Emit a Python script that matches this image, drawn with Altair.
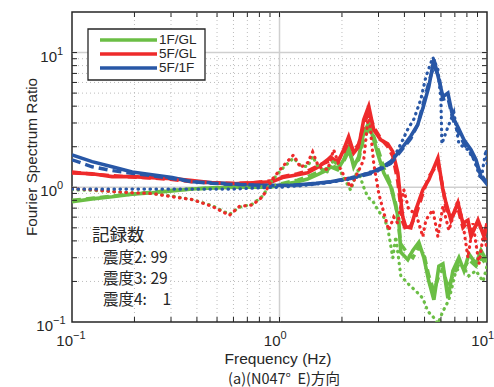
import altair as alt
import pandas as pd

W, H = 415, 310
SERIES = ["1F/GL", "5F/GL", "5F/1F"]
COLORS = ["#6BBE45", "#EE2A2B", "#2857A6"]
INK = "#262626"

# ---- data (frequency Hz, spectrum ratio) ----
# 1F/GL
G2_f = [0.1, 0.125, 0.156, 0.195, 0.243, 0.304, 0.38, 0.475, 0.594, 0.74, 0.904, 1.034, 1.222, 1.366, 1.543,
        1.706, 1.764, 1.906, 2.038, 2.154, 2.278, 2.407, 2.546, 2.692, 2.845, 3.008, 3.18, 3.438, 3.634, 3.757,
        3.842, 4.153, 4.391, 4.694, 4.962, 5.245, 5.546, 5.863, 6.13, 6.48, 6.849, 7.322, 7.742, 8.185, 8.849,
        9.355, 9.89, 10]
G2_v = [0.78, 0.82, 0.85, 0.89, 0.91, 0.94, 0.97, 0.99, 1.0, 1.0, 1.0, 1.05, 1.1, 1.15, 1.25,
        1.35, 1.42, 1.35, 1.6, 2.0, 1.42, 1.68, 2.54, 3.0, 2.25, 1.68, 1.28, 1.01, 0.72, 0.57,
        0.33, 0.29, 0.34, 0.39, 0.30, 0.2, 0.146, 0.26, 0.27, 0.15, 0.24, 0.3, 0.24, 0.32, 0.27,
        0.34, 0.29, 0.3]
G3_v = [0.8, 0.83, 0.86, 0.89, 0.92, 0.95, 0.97, 0.99, 1.0, 1.0, 1.01, 1.07, 1.13, 1.2, 1.3,
        1.38, 1.45, 1.4, 1.55, 1.85, 1.5, 1.6, 2.3, 2.7, 2.4, 1.85, 1.4, 1.05, 0.75, 0.5,
        0.38, 0.32, 0.3, 0.36, 0.32, 0.22, 0.17, 0.22, 0.25, 0.18, 0.22, 0.27, 0.25, 0.29, 0.26,
        0.3, 0.27, 0.28]
G4_f = [0.1, 0.125, 0.156, 0.195, 0.243, 0.304, 0.38, 0.475, 0.574, 0.64, 0.74, 0.83, 0.92, 1.034, 1.168,
        1.263, 1.366, 1.444, 1.543, 1.706, 1.824, 1.971, 2.203, 2.381, 2.546, 2.662, 2.845, 3.008, 3.18, 3.325,
        3.515, 3.634, 3.842, 4.2, 4.54, 4.907, 5.188, 5.483, 5.798, 6.13, 6.553, 7.082, 7.655, 8.185, 8.849,
        9.565, 10]
G4_v = [0.96, 0.95, 0.93, 0.91, 0.9, 0.86, 0.81, 0.73, 0.63, 0.71, 0.75, 0.86, 1.12, 1.38, 1.65,
        1.45, 1.42, 1.7, 1.4, 1.3, 1.6, 1.3, 0.95, 1.35, 1.0, 0.85, 0.77, 0.66, 0.6, 0.5,
        0.3, 0.43, 0.22, 0.19, 0.17, 0.15, 0.12, 0.11, 0.097, 0.12, 0.146, 0.24, 0.26, 0.22, 0.24,
        0.2, 0.26]

# 5F/GL
R2_f = [0.1, 0.125, 0.156, 0.195, 0.243, 0.304, 0.38, 0.475, 0.594, 0.74, 0.92, 1.034, 1.222, 1.366, 1.543,
        1.706, 1.764, 1.906, 2.038, 2.154, 2.278, 2.407, 2.546, 2.692, 2.845, 3.076, 3.325, 3.515, 3.716, 3.842,
        3.928, 4.061, 4.295, 4.54, 4.907, 5.245, 5.798, 6.13, 6.338, 6.7, 7.242, 7.655, 8.095, 8.37, 9.048,
        9.672, 10]
R2_v = [1.28, 1.26, 1.2, 1.2, 1.18, 1.16, 1.12, 1.08, 1.06, 1.08, 1.1, 1.18, 1.24, 1.28, 1.42,
        1.6, 1.68, 1.52, 1.9, 2.37, 1.8, 2.0, 3.17, 4.0, 2.67, 2.25, 2.1, 1.84, 1.28, 0.8,
        0.6, 0.51, 0.5, 0.68, 0.96, 1.14, 1.65, 0.96, 0.77, 0.57, 0.77, 0.54, 0.57, 0.43, 0.57,
        0.43, 0.54]
R3_v = [1.3, 1.25, 1.22, 1.19, 1.17, 1.14, 1.1, 1.08, 1.07, 1.08, 1.12, 1.2, 1.26, 1.32, 1.45,
        1.55, 1.6, 1.58, 1.8, 2.2, 1.85, 2.1, 2.9, 3.6, 2.8, 2.3, 2.0, 1.7, 1.1, 0.7,
        0.55, 0.48, 0.52, 0.62, 0.9, 1.2, 1.5, 1.0, 0.7, 0.6, 0.7, 0.5, 0.55, 0.45, 0.55,
        0.45, 0.5]
R4_f = [0.1, 0.125, 0.156, 0.195, 0.243, 0.304, 0.38, 0.475, 0.574, 0.64, 0.74, 0.83, 0.92, 1.034, 1.168,
        1.263, 1.366, 1.444, 1.543, 1.706, 1.824, 1.971, 2.203, 2.381, 2.546, 2.692, 2.845, 3.008, 3.18, 3.362,
        3.554, 3.716, 3.972, 4.2, 4.54, 4.907, 5.073, 5.483, 5.798, 6.13, 6.553, 7.242, 7.655, 8.095, 8.558,
        9.15, 9.672, 10]
R4_v = [0.975, 0.96, 0.93, 0.91, 0.9, 0.85, 0.81, 0.72, 0.62, 0.72, 0.74, 0.85, 1.14, 1.42, 1.74,
        1.4, 1.52, 1.83, 1.42, 1.35, 1.9, 1.35, 1.0, 1.28, 1.6, 3.6, 1.5, 0.9, 0.65, 0.48,
        0.6, 0.54, 0.96, 0.68, 0.64, 0.43, 0.57, 0.68, 0.43, 0.72, 0.48, 0.8, 0.54, 0.3, 0.54,
        0.27, 0.48, 0.34]

# 5F/1F
B2_f = [0.1, 0.125, 0.156, 0.195, 0.243, 0.304, 0.38, 0.475, 0.594, 0.74, 0.92, 1.2, 1.5, 1.764, 2.2,
        2.752, 3.1, 3.438, 3.842, 4.295, 4.63, 4.94, 5.245, 5.546, 5.863, 6.13, 6.48, 6.849, 7.242, 7.742,
        8.37, 8.849, 9.355, 9.89, 10]
B2_v = [1.74, 1.55, 1.42, 1.3, 1.24, 1.18, 1.1, 1.08, 1.06, 1.04, 1.03, 1.04, 1.07, 1.1, 1.17,
        1.28, 1.4, 1.55, 1.9, 2.4, 2.9, 4.0, 5.6, 8.9, 6.3, 4.7, 5.0, 3.3, 2.8, 2.25,
        1.9, 1.6, 1.2, 1.08, 1.15]
B3_v = [1.6, 1.42, 1.33, 1.27, 1.22, 1.16, 1.1, 1.07, 1.05, 1.04, 1.03, 1.04, 1.06, 1.1, 1.16,
        1.26, 1.37, 1.5, 1.85, 2.3, 2.9, 4.2, 6.0, 8.0, 6.6, 4.5, 4.6, 3.2, 2.6, 2.1,
        1.8, 1.5, 1.25, 1.1, 1.2]
B4_f = [0.1, 0.15, 0.2, 0.3, 0.4, 0.5, 0.6, 0.7, 0.8, 0.9, 1.0, 1.3, 1.7, 2.2, 2.75,
        3.1, 3.438, 3.842, 4.153, 4.44, 4.8, 5.073, 5.483, 5.798, 5.995, 6.06, 6.48, 6.92, 7.322, 8.095,
        8.655, 9.355, 9.89, 10]
B4_v = [0.97, 0.97, 0.97, 0.97, 0.97, 0.97, 0.97, 0.98, 0.99, 1.0, 1.0, 1.03, 1.08, 1.15, 1.3,
        1.38, 1.5, 2.1, 2.7, 3.2, 4.5, 6.6, 9.2, 7.5, 4.5, 2.1, 2.8, 3.6, 2.1, 1.9,
        1.6, 1.14, 1.9, 1.5]

CURVES = [
    ("1F/GL", "s2", G2_f, G2_v), ("5F/GL", "s2", R2_f, R2_v), ("5F/1F", "s2", B2_f, B2_v),
    ("1F/GL", "s3", G2_f, G3_v), ("5F/GL", "s3", R2_f, R3_v), ("5F/1F", "s3", B2_f, B3_v),
    ("1F/GL", "s4", G4_f, G4_v), ("5F/GL", "s4", R4_f, R4_v), ("5F/1F", "s4", B4_f, B4_v),
]

COUNT_TITLE = "記録数"
COUNT_LINES = ["震度2: 99", "震度3: 29", "震度4:\u00a0\u2007\u00a01"]

MINOR = [0.2, 0.3, 0.4, 0.5, 0.6, 0.7, 0.8, 0.9, 2, 3, 4, 5, 6, 7, 8, 9]
MAJOR_X = [1]
MAJOR_Y = [1, 10]
TICKS_X = [0.2, 0.3, 0.4, 0.5, 0.6, 0.7, 0.8, 0.9, 1, 2, 3, 4, 5, 6, 7, 8, 9]
TICKS_Y = [0.2, 0.3, 0.4, 0.5, 0.6, 0.7, 0.8, 0.9, 1, 2, 3, 4, 5, 6, 7, 8, 9, 10]

rows = []
for series, lev, fs, vs in CURVES:
    assert len(fs) == len(vs), (series, lev)
    for i, (f, v) in enumerate(zip(fs, vs)):
        rows.append({"series": series, "level": lev, "key": series + lev, "i": i, "f": f, "v": v})
df = pd.DataFrame(rows)

xs = alt.Scale(type="log", domain=[0.1, 10], nice=False)
ys = alt.Scale(type="log", domain=[0.1, 20], nice=False)
cscale = alt.Scale(domain=SERIES, range=COLORS)


def lines(level, **mk):
    d = df[df.level == level]
    return alt.Chart(d).mark_line(clip=True, **mk).encode(
        x=alt.X("f:Q", scale=xs, axis=None),
        y=alt.Y("v:Q", scale=ys, axis=None),
        color=alt.Color("series:N", scale=cscale, legend=None),
        detail="key:N",
        order="i:Q",
    )


layers = []
# grids
layers.append(alt.Chart(pd.DataFrame({"t": MINOR})).mark_rule(color="#bdbdbd", strokeWidth=1, strokeDash=[1, 3]).encode(
    x=alt.X("t:Q", scale=xs, axis=None)))
layers.append(alt.Chart(pd.DataFrame({"t": MINOR})).mark_rule(color="#bdbdbd", strokeWidth=1, strokeDash=[1, 3]).encode(
    y=alt.Y("t:Q", scale=ys, axis=None)))
layers.append(alt.Chart(pd.DataFrame({"t": MAJOR_X})).mark_rule(color="#cfcfcf", strokeWidth=1.5).encode(
    x=alt.X("t:Q", scale=xs, axis=None)))
layers.append(alt.Chart(pd.DataFrame({"t": MAJOR_Y})).mark_rule(color="#cfcfcf", strokeWidth=1.5).encode(
    y=alt.Y("t:Q", scale=ys, axis=None)))

# curves
layers.append(lines("s2", strokeWidth=3.6))
layers.append(lines("s3", strokeWidth=3.4, strokeDash=[9, 5]))
layers.append(lines("s4", strokeWidth=3.2, strokeDash=[0.5, 5.5], strokeCap="round"))

# ticks (inward)
tx = pd.DataFrame({"t": TICKS_X})
ty = pd.DataFrame({"t": TICKS_Y})
for y0, y1 in [(0, 5), (H - 5, H)]:
    layers.append(alt.Chart(tx).mark_rule(color=INK, strokeWidth=1).encode(
        x=alt.X("t:Q", scale=xs, axis=None), y=alt.value(y0), y2=alt.value(y1)))
for x0, x1 in [(0, 5), (W - 5, W)]:
    layers.append(alt.Chart(ty).mark_rule(color=INK, strokeWidth=1).encode(
        y=alt.Y("t:Q", scale=ys, axis=None), x=alt.value(x0), x2=alt.value(x1)))

# tick labels
XL = pd.DataFrame({"t": [0.1, 1, 10], "base": ["10", "10", "10"], "e": ["\u22121", "0", "1"]})
layers.append(alt.Chart(XL).mark_text(align="right", baseline="alphabetic", dx=1, fontSize=15,
                                      font="Liberation Sans", color=INK).encode(
    x=alt.X("t:Q", scale=xs, axis=None), y=alt.value(334), text="base:N"))
layers.append(alt.Chart(XL).mark_text(align="left", baseline="alphabetic", dx=1, fontSize=11,
                                      font="Liberation Sans", color=INK).encode(
    x=alt.X("t:Q", scale=xs, axis=None), y=alt.value(327), text="e:N"))
YL_a = pd.DataFrame({"t": [1, 10], "base": ["10", "10"], "e": ["0", "1"]})
YL_b = pd.DataFrame({"t": [0.1], "base": ["10"], "e": ["\u22121"]})
for d, xr in [(YL_a, -15), (YL_b, -19)]:
    layers.append(alt.Chart(d).mark_text(align="right", baseline="alphabetic", dy=9, fontSize=15,
                                         font="Liberation Sans", color=INK).encode(
        y=alt.Y("t:Q", scale=ys, axis=None), x=alt.value(xr), text="base:N"))
    layers.append(alt.Chart(d).mark_text(align="left", baseline="alphabetic", dy=2, fontSize=11,
                                         font="Liberation Sans", color=INK).encode(
        y=alt.Y("t:Q", scale=ys, axis=None), x=alt.value(xr), text="e:N"))

# axis titles
layers.append(alt.Chart(pd.DataFrame({"s": ["Frequency (Hz)"]})).mark_text(
    align="center", baseline="alphabetic", fontSize=15.5, font="Liberation Sans", color=INK).encode(
    x=alt.value(206), y=alt.value(352), text="s:N"))
layers.append(alt.Chart(pd.DataFrame({"s": ["(a)(N047°\u00a0\u00a0E)方向"]})).mark_text(
    align="center", baseline="alphabetic", fontSize=14.5, font="Noto Sans CJK JP", color=INK).encode(
    x=alt.value(212), y=alt.value(372), text="s:N"))
layers.append(alt.Chart(pd.DataFrame({"s": ["Fourier Spectrum Ratio"]})).mark_text(
    align="center", baseline="middle", angle=270, fontSize=15.3, font="Liberation Sans", color=INK).encode(
    x=alt.value(-40), y=alt.value(145), text="s:N"))

# legend
layers.append(alt.Chart(pd.DataFrame({"a": [0]})).mark_rect(fill="white", stroke=INK, strokeWidth=1.3).encode(
    x=alt.value(16), x2=alt.value(133), y=alt.value(17), y2=alt.value(68)))
for k, (name, col) in enumerate(zip(SERIES, COLORS)):
    yy = [28, 42, 56][k]
    layers.append(alt.Chart(pd.DataFrame({"s": [name]})).mark_rule(color=col, strokeWidth=3.6).encode(
        x=alt.value(28), x2=alt.value(85), y=alt.value(yy)))
    layers.append(alt.Chart(pd.DataFrame({"s": [name]})).mark_text(
        align="left", baseline="middle", fontSize=13.5, font="Liberation Sans", color=INK).encode(
        x=alt.value(87), y=alt.value(yy), text="s:N"))

# record counts
layers.append(alt.Chart(pd.DataFrame({"s": [COUNT_TITLE]})).mark_text(
    align="left", baseline="middle", fontSize=17.5, font="Noto Sans CJK JP", color=INK).encode(
    x=alt.value(20), y=alt.value(224), text="s:N"))
for k, s in enumerate(COUNT_LINES):
    layers.append(alt.Chart(pd.DataFrame({"s": [s]})).mark_text(
        align="left", baseline="middle", fontSize=15.5, font="Noto Sans CJK JP", color=INK).encode(
        x=alt.value(31), y=alt.value([246, 267, 288][k]), text="s:N"))

chart = alt.layer(*layers).properties(
    width=W, height=H,
    autosize=alt.AutoSizeParams(type="none"),
    padding={"left": 72, "top": 12, "right": 7, "bottom": 65},
    background="white",
).configure_view(stroke=INK, strokeWidth=1.5)

chart.save("out.html", embed_options={"renderer": "svg", "actions": False})
